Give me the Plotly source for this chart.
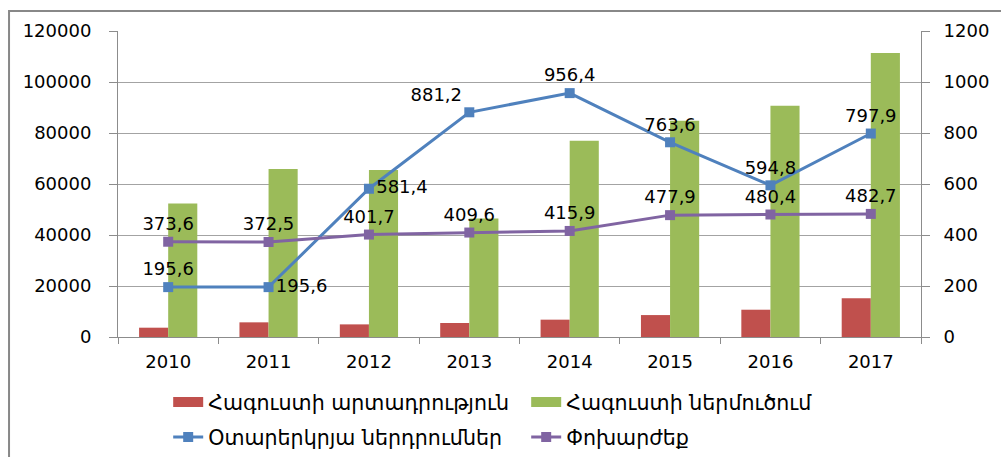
import plotly.graph_objects as go

years = ["2010", "2011", "2012", "2013", "2014", "2015", "2016", "2017"]
production = [3650, 5750, 4950, 5500, 6800, 8600, 10700, 15200]
imports = [52400, 65900, 65500, 46500, 77000, 84800, 90700, 111400]
investments = [195.6, 195.6, 581.4, 881.2, 956.4, 763.6, 594.8, 797.9]
exchange = [373.6, 372.5, 401.7, 409.6, 415.9, 477.9, 480.4, 482.7]

names = ["Հագուստի արտադրություն", "Հագուստի ներմուծում",
         "Օտարերկրյա ներդրումներ", "Փոխարժեք"]

inv_pos = ["top center", "middle right", "middle right", "top left",
           "top center", "top center", "top center", "top center"]

def fmt(vals):
    return [f"{v:.1f}".replace(".", ",") for v in vals]

FONT = "DejaVu Sans"
GRID = "#a3a3a3"
AX = "#8c8c8c"
RED, GREEN, BLUE, PURPLE = "#C0504D", "#9BBB59", "#4F81BD", "#8064A2"

fig = go.Figure()
fig.add_trace(go.Bar(x=years, y=production, name=names[0], legendgroup="a",
                     showlegend=False,
                     marker=dict(color=RED, line=dict(width=0))))
fig.add_trace(go.Bar(x=years, y=imports, name=names[1], legendgroup="b",
                     showlegend=False,
                     marker=dict(color=GREEN, line=dict(width=0))))
# legend swatches for the bars (wide rectangles, as in the reference)
fig.add_trace(go.Scatter(x=[None], y=[None], name=names[0], legendgroup="a",
                         mode="lines", line=dict(color=RED, width=10),
                         legend="legend"))
fig.add_trace(go.Scatter(x=[None], y=[None], name=names[1], legendgroup="b",
                         mode="lines", line=dict(color=GREEN, width=10),
                         legend="legend"))
fig.add_trace(go.Scatter(x=years, y=investments, name=names[2], yaxis="y2",
                         mode="lines+markers+text", text=fmt(investments),
                         textposition=inv_pos, legend="legend2",
                         textfont=dict(family=FONT, size=18, color="#000"),
                         line=dict(color=BLUE, width=3),
                         marker=dict(symbol="square", size=10, color=BLUE)))
fig.add_trace(go.Scatter(x=years, y=exchange, name=names[3], yaxis="y2",
                         mode="lines+markers+text", text=fmt(exchange),
                         textposition="top center", legend="legend2",
                         textfont=dict(family=FONT, size=18, color="#000"),
                         line=dict(color=PURPLE, width=3),
                         marker=dict(symbol="square", size=10, color=PURPLE)))

leg_common = dict(orientation="h", x=0.0625, xanchor="left", yanchor="middle",
                  entrywidth=313, entrywidthmode="pixels",
                  font=dict(family=FONT, size=20.6, color="#000"),
                  traceorder="normal", bgcolor="rgba(0,0,0,0)")

fig.update_layout(
    width=1001, height=457,
    margin=dict(l=118, r=80, t=31, b=120, autoexpand=False),
    paper_bgcolor="white", plot_bgcolor="white",
    font=dict(family=FONT, size=18, color="#000"),
    barmode="group", bargap=0.42, bargroupgap=0,
    showlegend=True,
    legend=dict(y=-0.2124, **leg_common),
    legend2=dict(y=-0.3268, **leg_common),
    xaxis=dict(type="category", showline=True, linecolor=AX, linewidth=1,
               ticks="outside", tickson="boundaries", ticklen=6, tickcolor=AX,
               showgrid=False, ticklabelstandoff=8, automargin=False,
               tickfont=dict(family=FONT, size=18, color="#000")),
    yaxis=dict(range=[0, 120000], dtick=20000, tickformat="d",
               showgrid=True, gridcolor=GRID, gridwidth=1,
               showline=True, linecolor=AX, linewidth=1, automargin=False,
               ticks="outside", ticklen=8, tickcolor=AX, zeroline=False,
               ticklabelstandoff=14,
               tickfont=dict(family=FONT, size=18, color="#000")),
    yaxis2=dict(range=[0, 1200], dtick=200, overlaying="y", side="right",
                showgrid=False, showline=True, linecolor=AX, linewidth=1,
                ticks="outside", ticklen=8, tickcolor=AX, zeroline=False,
                ticklabelstandoff=10, automargin=False,
                tickfont=dict(family=FONT, size=18, color="#000")),
    shapes=[dict(type="rect", xref="paper", yref="paper",
                 x0=-0.1357, x1=1.2, y0=-0.6, y1=1.065,
                 line=dict(color="#888888", width=2), layer="below")],
)

fig.write_html("out.html", config={"displayModeBar": False},
               post_script="document.body.style.margin='0';"
                           "document.body.style.overflow='hidden';")
